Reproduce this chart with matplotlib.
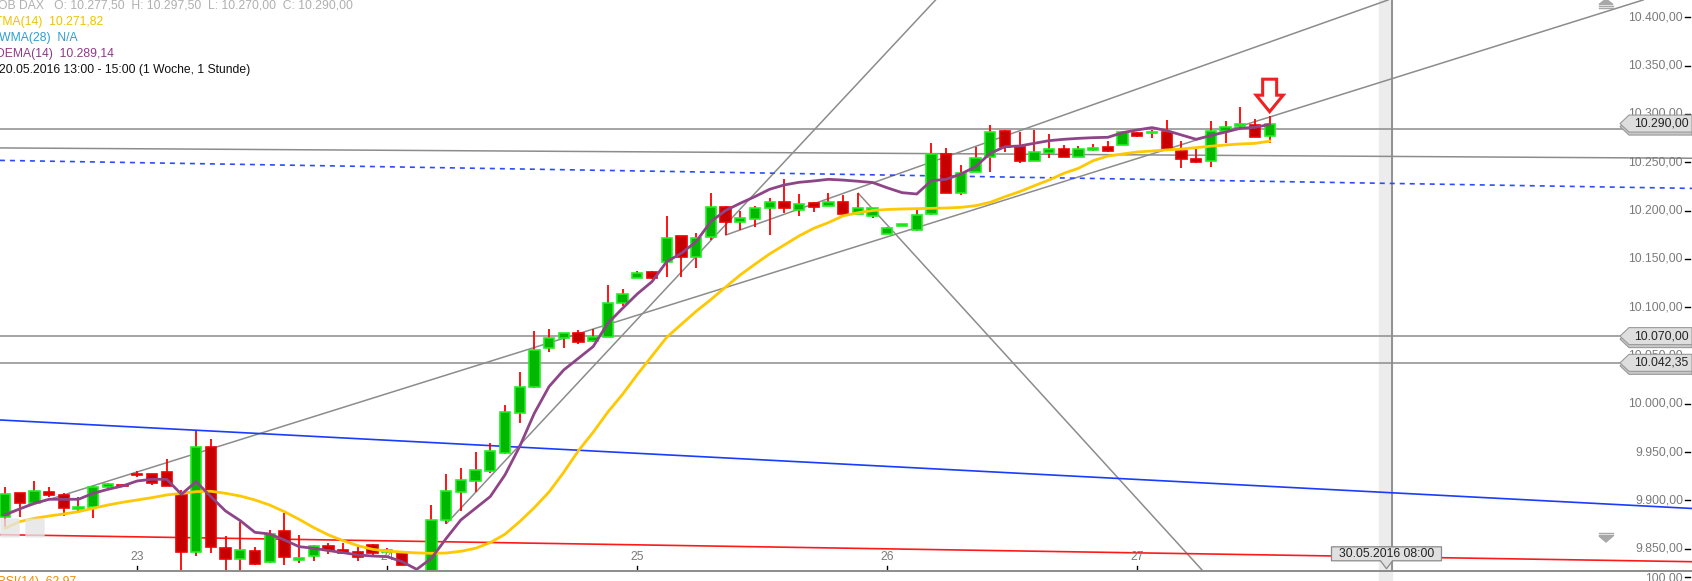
import matplotlib
matplotlib.use("Agg")
import matplotlib.pyplot as plt
from matplotlib.patches import Polygon, FancyBboxPatch
from matplotlib.transforms import blended_transform_factory

plt.rcParams['font.family'] = ['Liberation Sans', 'DejaVu Sans']

# hourly bars, bar 0 = first bar of the 23rd (17 bars per day)
bars = list(range(-9, 78))

opens = [9882.5, 9907.3, 9897.6, 9908.3, 9905.2, 9890.7, 9892.8, 9913.5, 9915.6,
         9927.3, 9927.0, 9929.0, 9905.6, 9846.9, 9954.9, 9850.4, 9839.7, 9847.3, 9835.9, 9868.0, 9838.3, 9842.4, 9852.8, 9848.6, 9846.9, 9853.8,
         9846.6, 9845.2, 9826.0, 9812.0, 9879.7, 9909.1, 9920.5, 9930.8, 9948.7, 9990.2, 10017.7, 10057.4, 10067.8, 10073.0, 10065.0, 10069.5, 10104.0,
         10129.9, 10136.1, 10146.4, 10173.7, 10151.6, 10172.3, 10204.0, 10187.8, 10191.0, 10202.3, 10208.5, 10200.6, 10207.5, 10204.7, 10208.5, 10196.1, 10194.4,
         10175.4, 10184.0, 10180.0, 10196.4, 10258.5, 10217.8, 10240.2, 10255.1, 10282.3, 10266.1, 10251.3, 10259.2, 10263.3, 10255.7, 10262.3, 10265.4, 10267.8,
         10280.6, 10279.9, 10281.6, 10261.9, 10253.0, 10251.3, 10282.3, 10287.8, 10288.5, 10277.5]
highs = [9913.5, 9908.0, 9920.1, 9913.5, 9907.3, 9903.1, 9914.9, 9917.5, 9916.5,
         9930.8, 9927.5, 9942.5, 9910.7, 9971.8, 9963.2, 9863.1, 9878.0, 9852.1, 9869.4, 9886.6, 9864.2, 9853.8, 9856.2, 9855.5, 9852.1, 9854.9,
         9850.4, 9845.9, 9827.0, 9895.2, 9927.3, 9933.2, 9950.1, 9959.1, 9998.8, 10033.3, 10075.4, 10077.4, 10073.6, 10076.4, 10077.1, 10123.0, 10118.5,
         10137.5, 10137.5, 10194.4, 10174.0, 10176.5, 10218.5, 10204.5, 10199.6, 10204.7, 10212.7, 10232.3, 10217.2, 10209.2, 10218.5, 10216.1, 10217.9, 10202.5,
         10182.5, 10186.5, 10201.2, 10269.6, 10264.4, 10247.1, 10266.1, 10288.5, 10283.3, 10281.6, 10283.3, 10279.2, 10267.8, 10266.8, 10268.9, 10272.3, 10281.6,
         10281.0, 10283.3, 10293.7, 10272.0, 10263.3, 10292.7, 10292.7, 10307.5, 10294.4, 10297.5]
lows = [9872.8, 9883.2, 9897.0, 9903.1, 9883.8, 9889.0, 9882.1, 9912.5, 9914.0,
        9923.9, 9915.9, 9914.9, 9815.0, 9842.8, 9845.9, 9815.0, 9815.0, 9833.5, 9835.5, 9833.5, 9834.8, 9837.6, 9844.5, 9844.5, 9837.6, 9841.7,
        9845.2, 9832.8, 9805.0, 9805.0, 9875.6, 9889.4, 9909.1, 9928.1, 9948.1, 9980.5, 10016.4, 10054.0, 10058.1, 10061.6, 10064.3, 10069.0, 10101.6,
        10129.9, 10129.2, 10131.6, 10131.6, 10140.9, 10169.6, 10174.7, 10179.9, 10183.4, 10174.7, 10197.2, 10194.7, 10198.9, 10204.5, 10196.0, 10196.0, 10192.7,
        10175.2, 10183.5, 10179.0, 10195.0, 10217.8, 10216.1, 10240.0, 10240.2, 10260.9, 10249.5, 10251.0, 10254.0, 10255.0, 10255.0, 10262.0, 10260.9, 10267.5,
        10276.0, 10275.4, 10262.7, 10243.7, 10248.8, 10245.4, 10269.5, 10283.3, 10276.5, 10270.0]
closes = [9906.3, 9896.9, 9909.4, 9905.9, 9891.8, 9892.8, 9914.2, 9917.3, 9914.9,
          9926.3, 9917.7, 9915.2, 9846.9, 9955.6, 9852.1, 9839.7, 9848.3, 9833.8, 9864.9, 9841.1, 9840.0, 9852.8, 9848.6, 9845.9, 9841.1, 9845.2,
          9848.6, 9833.1, 9812.0, 9879.7, 9909.7, 9921.2, 9931.5, 9950.8, 9991.2, 10017.1, 10055.7, 10068.5, 10073.0, 10064.3, 10069.5, 10104.0, 10113.3,
          10135.1, 10129.9, 10171.3, 10152.3, 10171.3, 10203.4, 10188.5, 10192.0, 10202.3, 10208.5, 10202.3, 10206.5, 10203.4, 10209.2, 10196.1, 10202.3, 10202.3,
          10182.3, 10186.0, 10195.4, 10258.5, 10217.8, 10238.5, 10254.0, 10280.9, 10266.1, 10251.6, 10260.2, 10263.3, 10255.7, 10263.3, 10264.4, 10261.9, 10281.6,
          10277.1, 10281.6, 10262.7, 10253.0, 10250.6, 10282.0, 10286.8, 10289.6, 10276.5, 10290.0]

dema = [9884.9, 9891.1, 9897.0, 9901.1, 9901.1, 9901.1, 9907.3, 9911.4, 9914.9,
        9920.1, 9921.8, 9921.8, 9906.3, 9919.4, 9903.9, 9889.0, 9879.0, 9866.9, 9865.2, 9859.0, 9852.1, 9850.4, 9848.0, 9845.9, 9843.5, 9842.4,
        9841.7, 9836.6, 9828.6, 9840.0, 9860.5, 9879.7, 9891.8, 9903.9, 9926.3, 9955.7, 9990.2, 10017.8, 10035.0, 10047.1, 10059.2, 10083.3, 10098.8,
        10113.7, 10126.4, 10147.1, 10155.8, 10167.8, 10188.5, 10200.0, 10207.5, 10214.4, 10222.0, 10226.5, 10229.2, 10230.6, 10232.3, 10231.5, 10230.3, 10229.0,
        10223.5, 10218.5, 10217.1, 10230.9, 10232.3, 10237.8, 10245.4, 10259.2, 10266.1, 10266.8, 10269.6, 10272.3, 10273.7, 10274.7, 10275.4, 10275.8, 10280.6,
        10283.4, 10285.8, 10282.7, 10278.2, 10273.7, 10277.6, 10281.2, 10285.1, 10286.1, 10289.1]
tma = [9871.1, 9878.0, 9881.4, 9883.8, 9885.9, 9888.3, 9891.8, 9895.2, 9898.0,
       9900.4, 9902.8, 9905.6, 9907.3, 9909.0, 9909.4, 9907.3, 9904.5, 9900.4, 9895.2, 9888.3, 9880.4, 9871.8, 9864.2, 9858.3, 9853.1, 9849.3,
       9847.5, 9846.5, 9845.6, 9845.2, 9845.5, 9847.3, 9850.4, 9856.3, 9864.9, 9878.0, 9892.5, 9908.7, 9929.1, 9951.5, 9970.5, 9991.5, 10009.8,
       10030.2, 10049.5, 10068.8, 10082.3, 10095.7, 10107.8, 10120.7, 10133.3, 10144.4, 10155.1, 10164.4, 10173.7, 10181.6, 10187.5, 10194.5, 10197.7, 10200.0,
       10201.1, 10201.6, 10201.9, 10202.3, 10202.6, 10203.3, 10205.0, 10208.5, 10214.3, 10219.5, 10225.7, 10231.6, 10238.5, 10243.7, 10251.6, 10256.4, 10258.5,
       10260.6, 10261.6, 10262.7, 10263.7, 10265.1, 10266.6, 10267.8, 10268.9, 10269.5, 10271.8]

day_labels = ['23', '24', '25', '26', '27']
day_bars = [0, 17, 34, 51, 68]
price_ticks = [9850, 9900, 9950, 10000, 10050, 10100, 10150, 10200, 10250, 10300, 10350, 10400]

# drawn lines: (bar, price) start and end
gray_lines = [((-9.34, 10284.4), (105.72, 10284.4)),
              ((-9.34, 10264.8), (105.72, 10254.1)),
              ((-9.34, 10070.0), (105.72, 10070.0)),
              ((-9.34, 10042.35), (105.72, 10042.35)),
              ((-9.34, 9884.9), (102.39, 10417.9)),
              ((21.04, 9876.3), (54.28, 10417.9)),
              ((49.03, 10217.8), (74.26, 9796.9)),
              ((40.03, 10174.7), (85.05, 10417.9))]
blue_line = ((-9.34, 9983.2), (105.72, 9891.6))
blue_dotted = ((-9.34, 10251.9), (105.72, 10222.9))
red_line = ((-9.34, 9864.5), (105.72, 9836.5))

price_marks = [10290.00, 10070.00, 10042.35]
future_bar = 85.32
future_label = '30.05.2016 08:00'
arrow_bar = 77
arrow_tip = 10302.3

FS = 8.7
W, H = 1692, 581
bot_px = 10.5
fig = plt.figure(figsize=(W / 100, H / 100), dpi=100)
ax = fig.add_axes([0, bot_px / H, 1, 1 - bot_px / H])
ax.set_xlim(-9.336, 105.72)
ax.set_ylim(9827.4, 10417.9)
ax.axis('off')
ux = (105.72 + 9.336) / W
uy = (10417.9 - 9827.4) / (H - bot_px)
bt = blended_transform_factory(ax.transAxes, ax.transData)


def de(v):
    s = f"{v:,.2f}"
    return s.replace(',', 'X').replace('.', ',').replace('X', '.')


def ftext(x, y, s, **kw):
    fig.text(x / W, 1 - y / H, s, **kw)


# future band + vertical line
ax.axvspan(future_bar - 13 * ux, future_bar, ymin=-bot_px / (H - bot_px), ymax=1,
           color='#ececec', zorder=0, clip_on=False)
ax.axvline(future_bar, color='#8a8a8a', lw=1.3, zorder=1)

# drawn lines
for (x0, y0), (x1, y1) in gray_lines:
    ax.plot([x0, x1], [y0, y1], color='#8c8c8c', lw=1.1, zorder=1)
ax.plot(*zip(*blue_line), color='#1a3cff', lw=1.2, zorder=1)
ax.plot(*zip(*blue_dotted), color='#2a4cff', lw=1.2, ls=(0, (3, 3)), zorder=1)
ax.plot(*zip(*red_line), color='#ff1a1a', lw=1.2, zorder=1)

# day labels and ticks (behind candles)
y0 = ax.get_ylim()[0]
for d, lab in zip(day_bars, day_labels):
    ax.text(d, y0 + 13.2 * uy, lab, ha='center', va='center', color='#7a7a7a', fontsize=FS, zorder=2)
    ax.plot([d, d], [y0, y0 + 4 * uy], color='k', lw=1, zorder=2)

# candles
ax.vlines(bars, lows, highs, color='#ff0000', lw=1.3, zorder=3)
up = [c >= o for o, c in zip(opens, closes)]
body_lo = [min(o, c) for o, c in zip(opens, closes)]
body_h = [max(abs(c - o), 1.2) for o, c in zip(opens, closes)]
ax.bar(bars, body_h, bottom=body_lo, width=0.7,
       color=['#00b800' if u else '#c40000' for u in up],
       edgecolor=['#22ee22' if u else '#ee0000' for u in up], linewidth=1.2, zorder=4)

# indicators
ax.plot(bars, tma, color='#ffc800', lw=2.0, zorder=5)
ax.plot(bars, dema, color='#8e4588', lw=2.0, zorder=6)

# right price scale
for p in price_ticks:
    ax.text(1683 / W, p, de(p), transform=bt, ha='right', va='center',
            color='#7a7a7a', fontsize=FS, zorder=7)
    ax.plot([1685 / W, 1690 / W], [p, p], transform=bt, color='k', lw=1, zorder=7)

# price marker boxes
hh = 8.5 * uy
for p in price_marks:
    pts = [(1620 / W, p), (1629 / W, p + hh), (1.0, p + hh), (1.0, p - hh), (1629 / W, p - hh)]
    shadow = [(x, y - 3 * uy) for x, y in pts]
    ax.add_patch(Polygon(shadow, closed=True, transform=bt, facecolor='#c8c8c8',
                         edgecolor='#9a9a9a', lw=0.8, zorder=8))
    ax.add_patch(Polygon(pts, closed=True, transform=bt, facecolor='#dedede',
                         edgecolor='#9a9a9a', lw=0.8, zorder=9))
    ax.text(1661 / W, p, de(p), transform=bt, ha='center', va='center',
            color='#222222', fontsize=FS, zorder=10)

# future date marker
fx = future_bar - 5.5 * ux
fy = y0 + 16.7 * uy
ax.add_patch(Polygon([(fx - 55 * ux, fy - 7 * uy), (fx - 6 * ux, fy - 7 * uy), (fx, fy - 15 * uy),
                      (fx + 6 * ux, fy - 7 * uy), (fx + 55 * ux, fy - 7 * uy),
                      (fx + 55 * ux, fy + 7 * uy), (fx - 55 * ux, fy + 7 * uy)],
                     closed=True, facecolor='#e0e0e0', edgecolor='#8a8a8a', lw=0.9, zorder=9,
                     clip_on=False))
ax.text(fx, fy, future_label, ha='center', va='center', color='#222222', fontsize=FS, zorder=10)

# red marker arrow above last bar
a_top = arrow_tip + 32.5 * uy
a_mid = arrow_tip + 16.5 * uy
ax.add_patch(Polygon([(arrow_bar - 7 * ux, a_top), (arrow_bar + 7 * ux, a_top),
                      (arrow_bar + 7 * ux, a_mid), (arrow_bar + 13.5 * ux, a_mid),
                      (arrow_bar, arrow_tip), (arrow_bar - 13.5 * ux, a_mid),
                      (arrow_bar - 7 * ux, a_mid)], closed=True,
                     facecolor='white', edgecolor='#ee2222', lw=2.2, zorder=11))

# bottom separator + lower panel remnants
fig.add_artist(plt.Line2D([0, 1], [bot_px / H, bot_px / H], transform=fig.transFigure,
                          color='#8c8c8c', lw=1.4))
ftext(1683, 578.5, '100,00', ha='right', va='center', color='#7a7a7a', fontsize=FS)
fig.add_artist(plt.Line2D([1685 / W, 1690 / W], [1 - 577 / H, 1 - 577 / H],
                          transform=fig.transFigure, color='k', lw=1))
ftext(-3, 576, 'RSI(14)  62,97', ha='left', va='top', color='#f08c00', fontsize=FS)

# scroll icons
for yy in (5.8, 7.8):
    fig.add_artist(plt.Line2D([1599 / W, 1613 / W], [1 - yy / H, 1 - yy / H],
                              transform=fig.transFigure, color='#a8a8a8', lw=1))
fig.add_artist(Polygon([(1599 / W, 1 - 4.5 / H), (1613 / W, 1 - 4.5 / H), (1606 / W, 1 + 1 / H)],
                       closed=True, transform=fig.transFigure, color='#a8a8a8'))
for yy in (532.5, 534.5):
    fig.add_artist(plt.Line2D([1599 / W, 1613 / W], [1 - yy / H, 1 - yy / H],
                              transform=fig.transFigure, color='#a8a8a8', lw=1))
fig.add_artist(Polygon([(1599 / W, 1 - 536 / H), (1613 / W, 1 - 536 / H), (1606 / W, 1 - 542 / H)],
                       closed=True, transform=fig.transFigure, color='#a8a8a8'))

# faint buttons lower left
for bx in (2, 27):
    fig.add_artist(FancyBboxPatch((bx / W, 1 - 537 / H), 16 / W, 18 / H,
                                  boxstyle='round,pad=0.001', transform=fig.transFigure,
                                  facecolor='#e4e4e4', edgecolor='none', alpha=0.8))

# header texts
ftext(-2, 5, 'OB DAX   O: 10.277,50  H: 10.297,50  L: 10.270,00  C: 10.290,00',
      va='center', color='#b0b0b0', fontsize=FS)
ftext(-5, 21.5, 'TMA(14)  10.271,82', va='center', color='#f2c200', fontsize=FS)
ftext(-9, 37.5, 'VWMA(28)  N/A', va='center', color='#2e9ed0', fontsize=FS)
ftext(-4, 53.5, 'DEMA(14)  10.289,14', va='center', color='#8e3a86', fontsize=FS)
ftext(-1, 70, '20.05.2016 13:00 - 15:00 (1 Woche, 1 Stunde)', va='center', color='#111111', fontsize=FS)

fig.savefig('out.png', dpi=100, facecolor='white')
